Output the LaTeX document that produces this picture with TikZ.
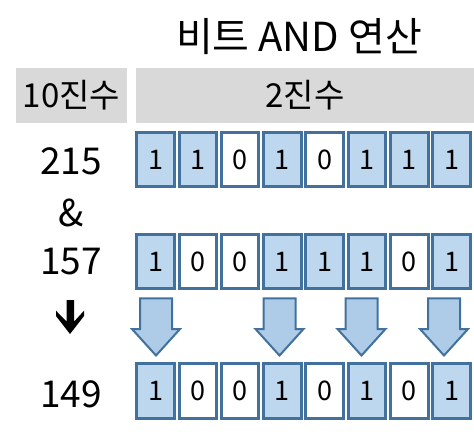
\documentclass[tikz,border=0pt]{standalone}
\usepackage{fontspec}
\setmainfont{Noto Sans CJK KR}
\definecolor{cellblue}{HTML}{BDD7EE}
\definecolor{cellline}{HTML}{41719C}
\definecolor{arrowblue}{HTML}{AECBE8}
\definecolor{hdrgray}{HTML}{D9D9D9}

\begin{document}
\begin{tikzpicture}[x=1pt,y=-1pt,
  bit/.style={draw=cellline, line width=3pt, minimum width=37.5pt,
    minimum height=54.5pt, inner sep=0pt, font=\fontsize{27}{27}\selectfont},
  b1/.style={bit, fill=cellblue},
  b0/.style={bit, fill=white},
  dec/.style={font=\fontsize{37}{37}\selectfont},
  hdr/.style={fill=hdrgray, inner sep=0pt, minimum height=55pt,
    font=\fontsize{33}{33}\selectfont},
  blockarrow/.style={draw=cellline, fill=arrowblue, line width=2pt, line join=miter}]
  \useasboundingbox (0,0) rectangle (474,439);
  % Title and header bars
  \node[font=\fontsize{40}{40}\selectfont] (title) at (299,37) {비트 AND 연산};
  \node[hdr, minimum width=111pt] (dechdr) at (71.5,95.5) {10진수};
  \node[hdr, minimum width=338pt] (binhdr) at (305,95.5) {2진수};
  % Decimal column
  \node[dec] (n215) at (71,161) {215};
  \node[dec] (amp)  at (71,213) {\&};
  \node[dec] (n157) at (71,262) {157};
  \node[dec] (n149) at (71,394) {149};
  \fill (66.7,300) -- (74,300) -- (74,321.7) -- (84,310.7) -- (84,316)
    -- (70,334) -- (56,316) -- (56,310.7) -- (66.7,321.7) -- cycle;
  % Bit rows: 215, 157 and the result 149
  \foreach \b [count=\i] in {1,1,0,1,0,1,1,1}
    \node[b\b] (a\i) at ({155.5+(\i-1)*42.3},159.5) {\b};
  \foreach \b [count=\i] in {1,0,0,1,1,1,0,1}
    \node[b\b] (c\i) at ({155.5+(\i-1)*42.3},261.4) {\b};
  \foreach \b [count=\i] in {1,0,0,1,0,1,0,1}
    \node[b\b] (r\i) at ({155.5+(\i-1)*42.3},391) {\b};
  % Block arrows over the bits that stay 1
  \foreach \x in {156,279.5,361.5,444}
    \draw[blockarrow] (\x-16,298.3) -- (\x+16,298.3) -- (\x+16,329)
      -- (\x+24,329) -- (\x,355.5) -- (\x-24,329) -- (\x-16,329) -- cycle;
\end{tikzpicture}
\end{document}
